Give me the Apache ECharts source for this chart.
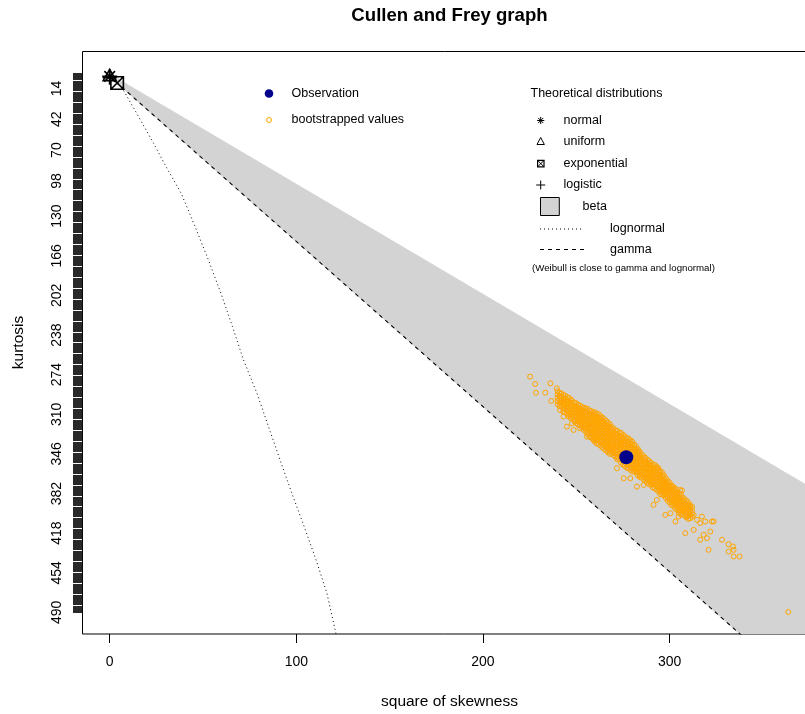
<!DOCTYPE html>
<html><head><meta charset="utf-8">
<script src="https://cdn.jsdelivr.net/npm/echarts@6/dist/echarts.min.js"></script>
<style>html,body{margin:0;padding:0;background:#fff}#c{width:805px;height:714px}</style>
</head><body><div id="c"></div>
<script>
// ---- data ----
const kurtMax = 490;          // largest kurtosis on the axis
const s2Max = 364;            // largest square of skewness
const xTickValues = [0, 100, 200, 300];
const yTickLabels = [14, 42, 70, 98, 130, 166, 202, 238, 274, 310, 346, 382, 418, 454, 490];

const observation = [[276.8, 349.0]];

const normalPt = [[0, 3]];
const uniformPt = [[0, 1.8]];
const exponentialPt = [[4, 9]];
const logisticPt = [[0, 4.2]];

const betaRegion = [[0, 1], [380, 381], [380, 573], [0, 3]];
const gammaLine = [[0, 3], [340, 513]];
const lognormalLine = [[0, 3], [6.5, 13], [16, 41.1], [23.5, 63.8], [30.6, 86.2], [38.3, 109.2], [45.8, 139.5],
  [52.9, 169.8], [59.6, 200.0], [65.8, 230.4], [71.7, 260.6], [78.9, 290.9], [85.1, 321.2], [91.3, 351.5],
  [97.6, 381.7], [104.2, 412.0], [110.6, 442.3], [116.4, 472.6], [120.4, 502.9], [122, 515]];

// scattered bootstrap values [s2, kurtosis]
const bootstrapLoose = [[225.3,275.8],[228.0,282.5],[236.1,281.9],[228.4,290.4],[233.4,290.4],[236.6,297.9],[239.6,286.4],
  [252.1,322.7],[253.9,319.7],[261.1,316.7],[262.9,313.6],[255.7,330.3],[259.3,333.3],[271.8,359.0],[275.4,368.1],
  [279.0,368.1],[282.5,375.7],[286.1,374.2],[279.0,336.3],[280.7,342.4],[283.4,343.9],[287.9,357.5],[293.2,359.0],
  [295.0,366.6],[296.8,372.6],[301.3,375.7],[305.7,378.7],[306.6,379.3],[291.4,392.3],[293.2,387.8],[297.7,401.4],
  [300.4,399.9],[303.1,407.4],[304.8,402.9],[307.5,396.8],[309.3,393.8],[311.1,393.8],[309.3,402.9],[312.9,401.4],
  [314.7,405.9],[317.3,402.9],[316.4,408.9],[319.1,407.4],[308.4,418.0],[312.9,415.0],[316.4,424.0],[318.2,419.5],
  [320.9,433.1],[321.8,416.5],[322.7,407.4],[323.6,407.4],[320.0,422.5],[328.1,424.0],[331.6,428.0],[334.0,430.1],
  [331.6,434.6],[334.3,439.2],[337.5,439.2],[334.3,433.1],[273.6,348.4],[268.2,340.9],[245.0,321.2],[247.7,318.2],
  [248.6,324.2],[250.4,304.6],[243.2,312.1],[241.4,306.1],[363.6,489.6]];

// dense bootstrap core: [s2, kurtosis values...]
const bootstrapCore = [
  [240, 289,292,295,298,301],
  [241, 290.5,293.5,296.5,299.5,302.5],
  [242, 291,294,297,300,303],
  [243, 292.5,295.5,298.5,301.5,304.5,307.5],
  [244, 293,296,299,302,305,308],
  [245, 294.5,297.5,300.5,303.5,306.5,309.5],
  [246, 295,298,301,304,307,310,312],
  [247, 296.5,299.5,302.5,305.5,308.5,311.5,313.5],
  [248, 298,301,304,307,310,313],
  [249, 299.5,302.5,305.5,308.5,311.5,314.5,316.5],
  [250, 300,303,306,309,312,315,318],
  [251, 301.5,304.5,307.5,310.5,313.5,316.5,319.5],
  [252, 302,305,308,311,314,317,320],
  [253, 303.5,306.5,309.5,312.5,315.5,318.5,321.5],
  [254, 304,307,310,313,316,319,322,324],
  [255, 304.5,307.5,310.5,313.5,316.5,319.5,322.5,325.5],
  [256, 305,308,311,314,317,320,323,326,328],
  [257, 306.5,309.5,312.5,315.5,318.5,321.5,324.5,327.5,330.5],
  [258, 307,310,313,316,319,322,325,328,331],
  [259, 308.5,311.5,314.5,317.5,320.5,323.5,326.5,329.5,332.5],
  [260, 308,311,314,317,320,323,326,329,332,335],
  [261, 309.5,312.5,315.5,318.5,321.5,324.5,327.5,330.5,333.5,336.5],
  [262, 310,313,316,319,322,325,328,331,334,337],
  [263, 311.5,314.5,317.5,320.5,323.5,326.5,329.5,332.5,335.5,338.5],
  [264, 313,316,319,322,325,328,331,334,337,340],
  [265, 314.5,317.5,320.5,323.5,326.5,329.5,332.5,335.5,338.5,341.5],
  [266, 316,319,322,325,328,331,334,337,340,343],
  [267, 317.5,320.5,323.5,326.5,329.5,332.5,335.5,338.5,341.5,344.5],
  [268, 319,322,325,328,331,334,337,340,343,346],
  [269, 321.5,324.5,327.5,330.5,333.5,336.5,339.5,342.5,345.5],
  [270, 323,326,329,332,335,338,341,344,347],
  [271, 324.5,327.5,330.5,333.5,336.5,339.5,342.5,345.5,348.5],
  [272, 325,328,331,334,337,340,343,346,349,351],
  [273, 326.5,329.5,332.5,335.5,338.5,341.5,344.5,347.5,350.5],
  [274, 327,330,333,336,339,342,345,348,351,354],
  [275, 328.5,331.5,334.5,337.5,340.5,343.5,346.5,349.5,352.5,355.5],
  [276, 330,333,336,339,342,345,348,351,354,357],
  [277, 331.5,334.5,337.5,340.5,343.5,346.5,349.5,352.5,355.5,358.5],
  [278, 332,335,338,341,344,347,350,353,356,359],
  [279, 333.5,336.5,339.5,342.5,345.5,348.5,351.5,354.5,357.5,360.5],
  [280, 335,338,341,344,347,350,353,356,359,362],
  [281, 337.5,340.5,343.5,346.5,349.5,352.5,355.5,358.5,361.5],
  [282, 339,342,345,348,351,354,357,360,363],
  [283, 341.5,344.5,347.5,350.5,353.5,356.5,359.5,362.5,365.5],
  [284, 344,347,350,353,356,359,362,365,367],
  [285, 346.5,349.5,352.5,355.5,358.5,361.5,364.5,367.5],
  [286, 348,351,354,357,360,363,366,369],
  [287, 349.5,352.5,355.5,358.5,361.5,364.5,367.5,370.5],
  [288, 351,354,357,360,363,366,369,372],
  [289, 352.5,355.5,358.5,361.5,364.5,367.5,370.5,373.5],
  [290, 354,357,360,363,366,369,372,374],
  [291, 355.5,358.5,361.5,364.5,367.5,370.5,373.5,376.5],
  [292, 356,359,362,365,368,371,374,377],
  [293, 357.5,360.5,363.5,366.5,369.5,372.5,375.5,378.5],
  [294, 359,362,365,368,371,374,377,380],
  [295, 361.5,364.5,367.5,370.5,373.5,376.5,379.5,382.5],
  [296, 363,366,369,372,375,378,381,383],
  [297, 365.5,368.5,371.5,374.5,377.5,380.5,383.5],
  [298, 368,371,374,377,380,383,386],
  [299, 370.5,373.5,376.5,379.5,382.5,385.5,388.5],
  [300, 372,375,378,381,384,387,390],
  [301, 374.5,377.5,380.5,383.5,386.5,389.5,392.5],
  [302, 376,379,382,385,388,391,393],
  [303, 377.5,380.5,383.5,386.5,389.5,392.5,395.5],
  [304, 379,382,385,388,391,394,397],
  [305, 381.5,384.5,387.5,390.5,393.5,396.5,399.5],
  [306, 383,386,389,392,395,398,401],
  [307, 385.5,388.5,391.5,394.5,397.5,400.5],
  [308, 387,390,393,396,399,402],
  [309, 388.5,391.5,394.5,397.5,400.5,403.5],
  [310, 390,393,396,399,402,405],
  [311, 392.5,395.5,398.5,401.5,404.5],
  [312, 394,397,400,403]
];

// ---- build ----
const FONT = '"Liberation Sans", Arial, Helvetica, sans-serif';
const bootstrapAll = bootstrapLoose.slice();
bootstrapCore.forEach(col => { for (let i = 1; i < col.length; i++) bootstrapAll.push([col[0], col[i]]); });
const yTickPositions = [];
for (let v = 0; v <= kurtMax; v++) yTickPositions.push(v);

const starPath = 'path://M0,-10L0,10M-10,0L10,0M-7.07,-7.07L7.07,7.07M-7.07,7.07L7.07,-7.07';
const triPath = 'path://M0,-10L8.66,5L-8.66,5Z';
const boxXPath = 'path://M-10,-10L10,-10L10,10L-10,10ZM-10,-10L10,10M-10,10L10,-10';
const plusPath = 'path://M0,-10L0,10M-10,0L10,0';

function markerSeries(name, data, symbol, size) {
  return {
    name, type: 'scatter', data, symbol, symbolSize: size, symbolKeepAspect: true, z: 4,
    itemStyle: { color: 'rgba(0,0,0,0)', borderColor: '#000', borderWidth: 1.6, opacity: 1 }
  };
}

const chart = echarts.init(document.getElementById('c'), null, { renderer: 'canvas' });

// legend graphics
const g = [];
function txt(x, y, s, size, extra) {
  g.push(Object.assign({ type: 'text', x, y, style: { text: s, fill: '#000', font: size + 'px ' + FONT, textAlign: 'left', textVerticalAlign: 'middle' } }, extra || {}));
}
function seg(x1, y1, x2, y2, w, dash) {
  g.push({ type: 'line', shape: { x1, y1, x2, y2 }, style: { stroke: '#000', lineWidth: w || 1, lineDash: dash || null } });
}
// left legend
g.push({ type: 'circle', shape: { cx: 269, cy: 93.5, r: 4.3 }, style: { fill: '#00008B' } });
txt(291.5, 93.5, 'Observation', 12.5);
g.push({ type: 'circle', shape: { cx: 269, cy: 120, r: 2.5 }, style: { fill: 'none', stroke: '#FFA500', lineWidth: 1 } });
txt(291.5, 120, 'bootstrapped values', 12.5);
// right legend
txt(530.5, 94, 'Theoretical distributions', 12.5);
(function () { const cx = 540.7, cy = 120.5, r = 3.6, d = 2.6;
  seg(cx, cy - r, cx, cy + r); seg(cx - r, cy, cx + r, cy); seg(cx - d, cy - d, cx + d, cy + d); seg(cx - d, cy + d, cx + d, cy - d); })();
txt(563.5, 120.5, 'normal', 12.5);
g.push({ type: 'polygon', shape: { points: [[540.7, 137.5], [544.4, 144.5], [537, 144.5]] }, style: { fill: 'none', stroke: '#000', lineWidth: 1 } });
txt(563.5, 141.8, 'uniform', 12.5);
g.push({ type: 'rect', shape: { x: 537.6, y: 160.4, width: 6.4, height: 6.4 }, style: { fill: 'none', stroke: '#000', lineWidth: 1.2 } });
seg(537.6, 160.4, 544, 166.8); seg(537.6, 166.8, 544, 160.4);
txt(563.5, 163.6, 'exponential', 12.5);
seg(540.7, 180.5, 540.7, 189.5); seg(536.2, 185, 545.2, 185);
txt(563.5, 185, 'logistic', 12.5);
g.push({ type: 'rect', shape: { x: 540.5, y: 197.5, width: 18.8, height: 18 }, style: { fill: '#D3D3D3', stroke: '#000', lineWidth: 1 } });
txt(582.5, 207, 'beta', 12.5);
seg(540, 229, 584, 229, 1, [1, 3]);
txt(610, 229, 'lognormal', 12.5);
seg(540, 249.5, 588, 249.5, 1, [4, 4]);
txt(610, 249.5, 'gamma', 12.5);
txt(532, 268, '(Weibull is close to gamma and lognormal)', 9.7);
// axis titles and main title
g.push({ type: 'text', x: 449.5, y: 702, style: { text: 'square of skewness', fill: '#000', font: '15.5px ' + FONT, textAlign: 'center', textVerticalAlign: 'middle' } });
g.push({ type: 'text', x: 19, y: 342.5, rotation: Math.PI / 2, style: { text: 'kurtosis', fill: '#000', font: '15.5px ' + FONT, textAlign: 'center', textVerticalAlign: 'middle' } });
g.push({ type: 'text', x: 449.5, y: 15.5, style: { text: 'Cullen and Frey graph', fill: '#000', font: 'bold 18.6px ' + FONT, textAlign: 'center', textVerticalAlign: 'middle' } });

chart.setOption({
  animation: false,
  backgroundColor: '#fff',
  grid: { left: 82.5, top: 51.5, right: -11.2, bottom: 80, show: true, borderColor: '#000', borderWidth: 1,
          backgroundColor: 'transparent', containLabel: false, outerBoundsMode: 'none' },
  xAxis: {
    type: 'value', min: -0.04 * s2Max, max: 1.04 * s2Max,
    axisLine: { show: false, onZero: false }, splitLine: { show: false },
    axisTick: { show: true, length: 9, customValues: xTickValues, lineStyle: { color: '#000', width: 1 } },
    axisLabel: { customValues: xTickValues, margin: 21, fontSize: 14, color: '#000', fontFamily: FONT }
  },
  yAxis: {
    type: 'value', inverse: true, min: -0.04 * kurtMax, max: 1.04 * kurtMax,
    axisLine: { show: false, onZero: false }, splitLine: { show: false },
    axisTick: { show: true, length: 9.5, customValues: yTickPositions, lineStyle: { color: '#111', width: 0.9 } },
    axisLabel: { customValues: yTickLabels, rotate: 90, margin: 18, fontSize: 14, color: '#000', fontFamily: FONT }
  },
  graphic: g,
  series: [
    {
      name: 'beta', type: 'custom', coordinateSystem: 'cartesian2d', clip: true, silent: true, z: 1,
      data: [[0, 0]],
      renderItem: function (params, api) {
        const cs = params.coordSys;
        return {
          type: 'group',
          clipPath: { type: 'rect', shape: { x: cs.x, y: cs.y, width: cs.width, height: cs.height } },
          children: [{ type: 'polygon', shape: { points: betaRegion.map(p => api.coord(p)) },
                       style: { fill: '#D3D3D3', stroke: '#D3D3D3', lineWidth: 1 } }]
        };
      }
    },
    { name: 'lognormal', type: 'line', data: lognormalLine, showSymbol: false, clip: true, z: 2,
      lineStyle: { color: '#000', width: 1, type: [1, 3] } },
    { name: 'gamma', type: 'line', data: gammaLine, showSymbol: false, clip: true, z: 2,
      lineStyle: { color: '#000', width: 1.1, type: [4, 4] } },
    markerSeries('uniform', uniformPt, triPath, 13),
    markerSeries('logistic', logisticPt, plusPath, 14),
    markerSeries('normal', normalPt, starPath, 15),
    markerSeries('exponential', exponentialPt, boxXPath, 12.5),
    { name: 'bootstrapped values', type: 'scatter', data: bootstrapAll, symbol: 'circle', symbolSize: 5, z: 5,
      itemStyle: { color: 'rgba(0,0,0,0)', borderColor: '#FFA500', borderWidth: 1, opacity: 1 } },
    { name: 'Observation', type: 'scatter', data: observation, symbol: 'circle', symbolSize: 14, z: 6,
      itemStyle: { color: '#00008B', opacity: 1 } }
  ]
});
</script></body></html>
